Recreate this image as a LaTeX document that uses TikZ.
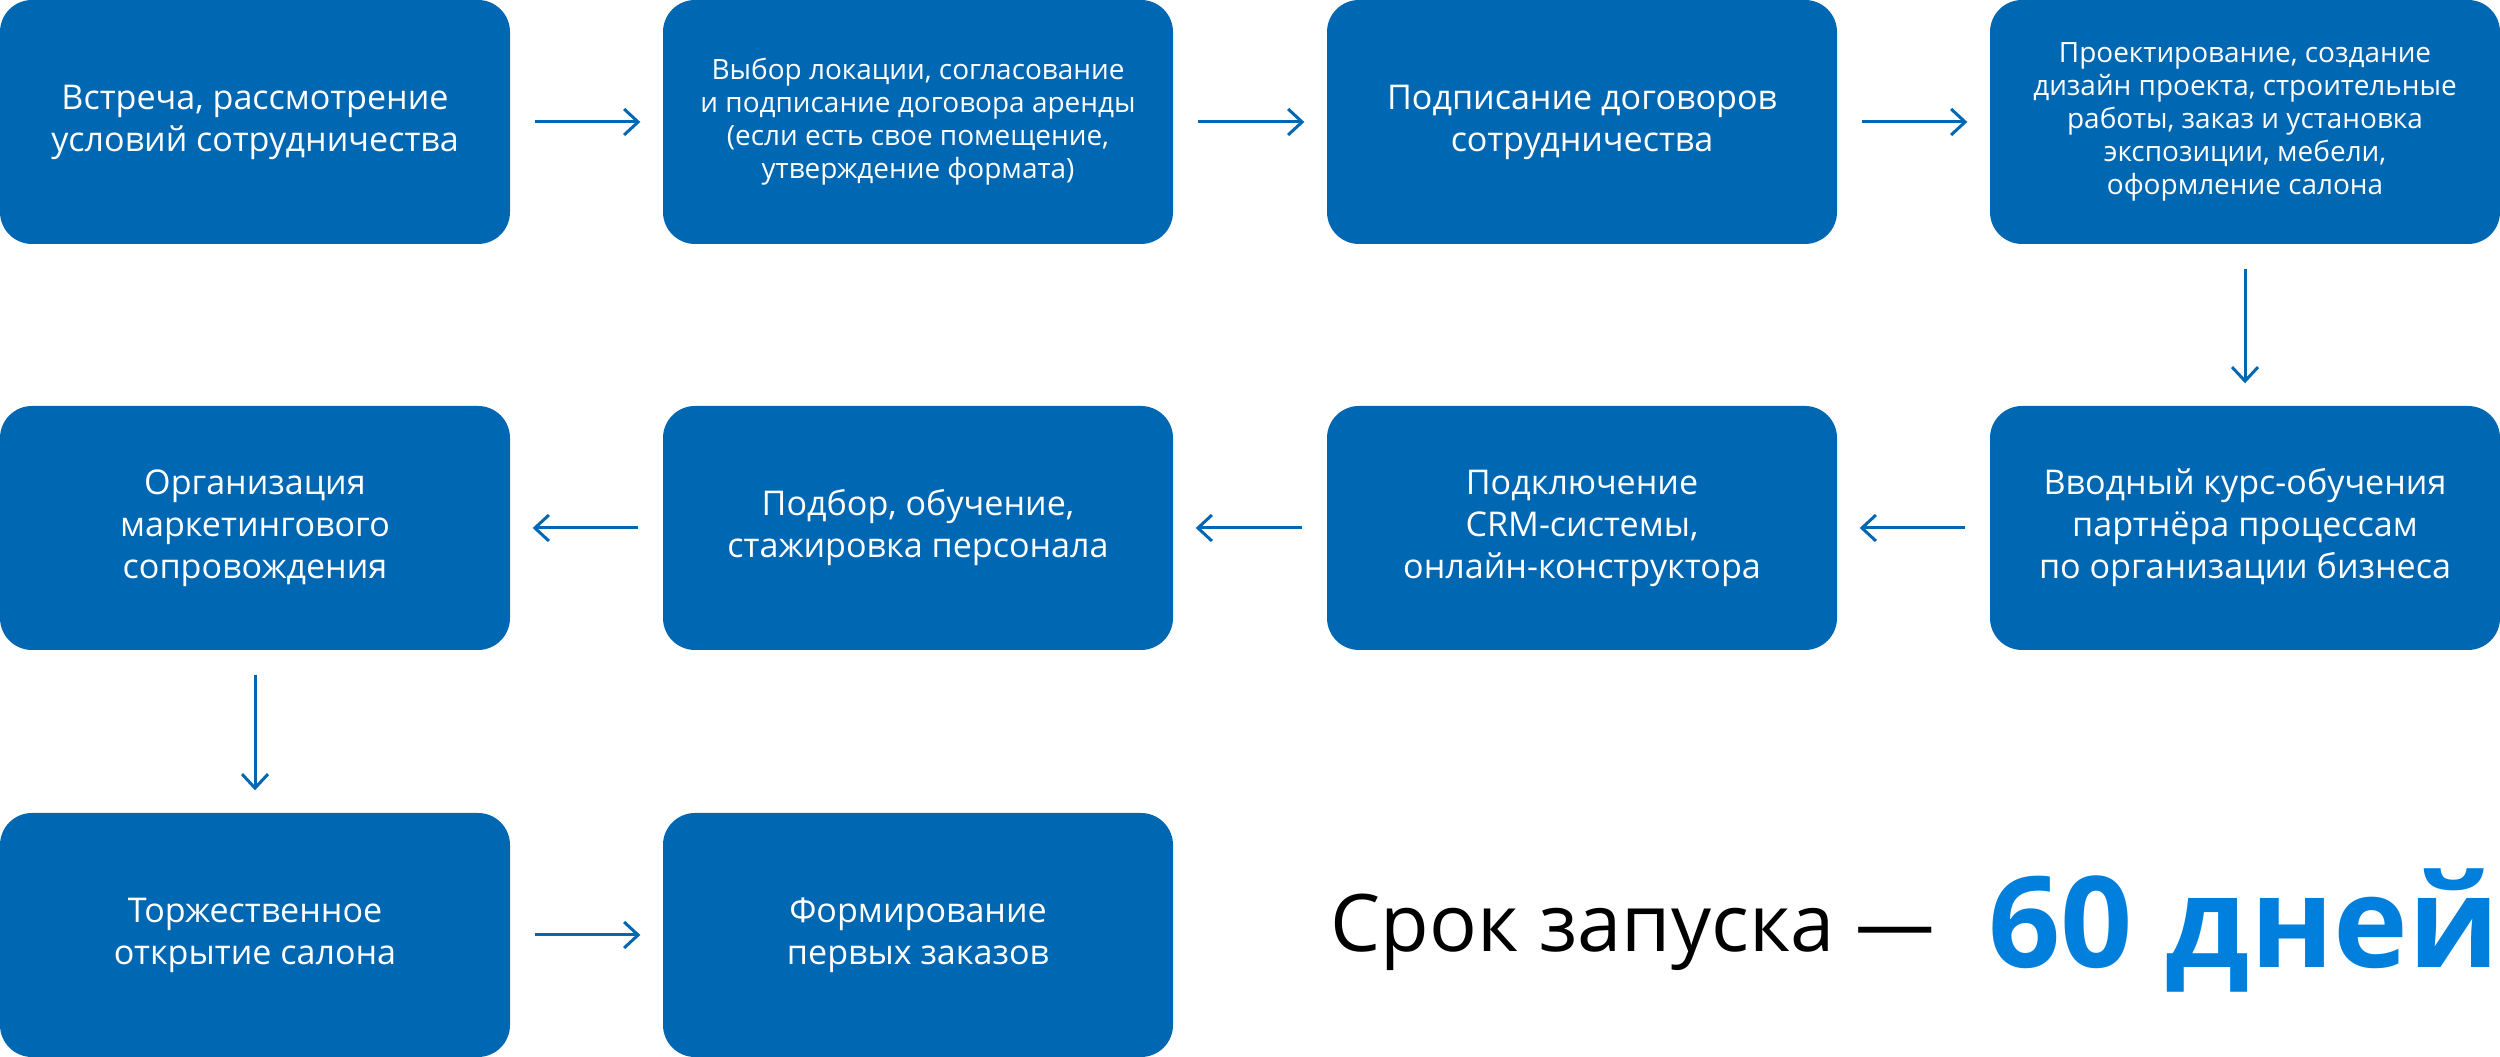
\documentclass[tikz,border=0pt]{standalone}
\usepackage{fontspec}
\setmainfont{Open Sans}
\usetikzlibrary{arrows.meta}
\definecolor{boxblue}{HTML}{0067B2}
\definecolor{dayblue}{HTML}{0080DC}

\begin{document}
\begin{tikzpicture}[block/.style={rectangle,rounded corners=0.32cm,fill=boxblue,text=white,minimum width=5.1cm,minimum height=2.44cm,align=center,inner sep=0pt},
big/.style={font=\fontsize{9.7pt}{11.95pt}\selectfont},
small/.style={font=\fontsize{7.95pt}{9.4pt}\selectfont},
link/.style={draw=boxblue,line width=0.03cm,-{Straight Barb[length=0.14cm,width=0.26cm,line width=0.03cm]},shorten >=0.22cm,shorten <=0.24cm}]
\def\xOne{2.55}
\def\xTwo{9.18}
\def\xThree{15.82}
\def\xFour{22.45}
\def\yOne{9.35}
\def\yTwo{5.29}
\def\yThree{1.22}
\useasboundingbox (0,0) rectangle (25,10.57);
  %\draw[help lines] (0,0) grid (25,11);
\path
(\xOne,\yOne) node [block,big] (st1) {Встреча, рассмотрение\\условий сотрудничества}
(\xTwo,\yOne) node [block,small] (st2) {Выбор локации, согласование\\и подписание договора аренды\\(если есть свое помещение,\\утверждение формата)}
(\xThree,\yOne) node [block,big] (st3) {Подписание договоров\\сотрудничества}
(\xFour,\yOne) node [block,small] (st4) {Проектирование, создание\\дизайн проекта, строительные\\работы, заказ и установка\\экспозиции, мебели,\\оформление салона}
(\xFour,\yTwo) node [block,big] (st5) {Вводный курс-обучения\\партнёра процессам\\по организации бизнеса}
(\xThree,\yTwo) node [block,big] (st6) {Подключение\\CRM-системы,\\онлайн-конструктора}
(\xTwo,\yTwo) node [block,big] (st7) {Подбор, обучение,\\стажировка персонала}
(\xOne,\yTwo) node [block,big] (st8) {Организация\\маркетингового\\сопровождения}
(\xOne,\yThree) node [block,big] (st9) {Торжественное\\открытие салона}
(\xTwo,\yThree) node [block,big] (st10) {Формирование\\первых заказов}
;

\begin{scope}[every path/.style=link]
\path (st1) -- (st2);
\path (st2) -- (st3);
\path (st3) -- (st4);
\path (st4) -- (st5);
\path (st5) -- (st6);
\path (st6) -- (st7);
\path (st7) -- (st8);
\path (st8) -- (st9);
\path (st9) -- (st10);
\end{scope}

\node[anchor=base west,inner sep=0pt,font=\fontsize{22.6pt}{27pt}\selectfont] (term) at (13.30,1.05) {Срок запуска —};
\node[anchor=base west,inner sep=0pt,text=dayblue,font=\fontsize{36pt}{40pt}\selectfont\bfseries] (days) at (19.88,0.89) {60 дней};
\end{tikzpicture}
\end{document}
